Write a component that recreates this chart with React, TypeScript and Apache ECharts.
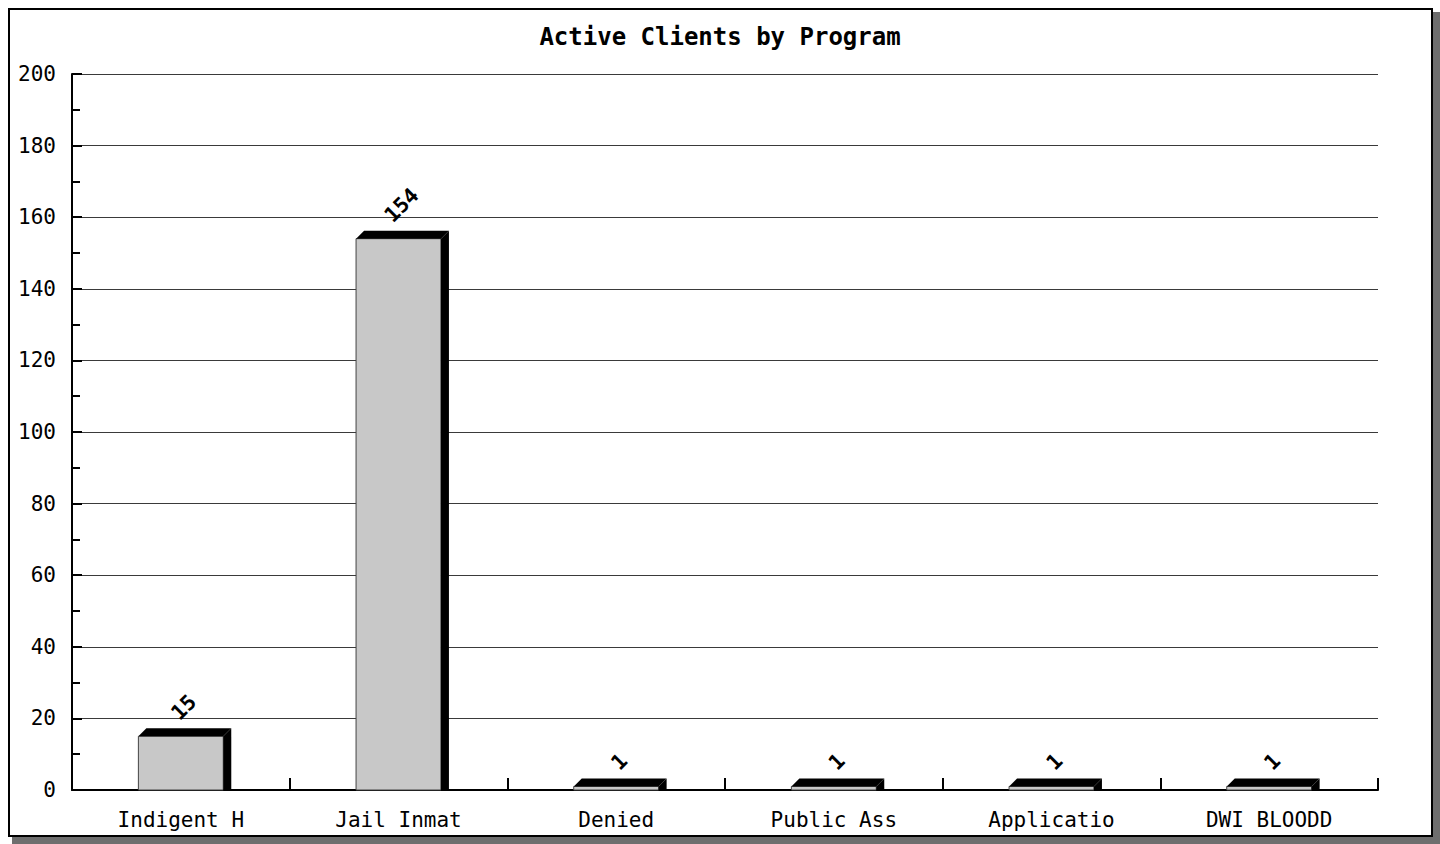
import React, { useEffect, useRef } from "react";
import * as echarts from "echarts";

const categories = ["Indigent H", "Jail Inmat", "Denied", "Public Ass", "Applicatio", "DWI BLOODD"];
const values = [15, 154, 1, 1, 1, 1];
const yTicks = { min: 0, max: 200, interval: 20 };
const titleText = "Active Clients by Program";

const FONT = "'DejaVu Sans Mono', 'Liberation Mono', monospace";

export default function App() {
  const ref = useRef<HTMLDivElement>(null);
  useEffect(() => {
    if (!ref.current) return;
    const chart = echarts.init(ref.current, null, { renderer: "svg" });
    const depth = 8;
    chart.setOption({
      animation: false,
      backgroundColor: "#ffffff",
      title: {
        text: titleText,
        left: "center",
        top: 20,
        textStyle: { fontFamily: FONT, fontWeight: "bold", fontSize: 24, color: "#000" },
      },
      grid: { left: 72, right: 62, top: 74, bottom: 54 },
      xAxis: {
        type: "category",
        data: categories,
        boundaryGap: true,
        axisLine: { lineStyle: { color: "#000", width: 2 } },
        axisTick: { show: true, inside: true, length: 12, lineStyle: { color: "#000", width: 2 } },
        axisLabel: { fontFamily: FONT, fontSize: 21, color: "#000", margin: 19 },
        splitLine: { show: false },
      },
      yAxis: {
        type: "value",
        min: yTicks.min,
        max: yTicks.max,
        interval: yTicks.interval,
        axisLine: { show: true, lineStyle: { color: "#000", width: 2 } },
        axisTick: { show: true, inside: true, length: 10, lineStyle: { color: "#000", width: 2 } },
        minorTick: { show: true, splitNumber: 2, length: 8, lineStyle: { color: "#000", width: 2 } },
        axisLabel: { fontFamily: FONT, fontSize: 21, color: "#000", margin: 16 },
        splitLine: { show: true, lineStyle: { color: "#3a3a3a", width: 1 } },
      },
      graphic: [
        { type: "rect", shape: { x: 1433, y: 12, width: 7, height: 832 }, style: { fill: "#6e6e6e" }, silent: true },
        { type: "rect", shape: { x: 12, y: 837, width: 1428, height: 7 }, style: { fill: "#6e6e6e" }, silent: true },
        { type: "rect", shape: { x: 9, y: 9, width: 1423, height: 827 }, style: { fill: "none", stroke: "#000", lineWidth: 2 }, silent: true },
      ],
      series: [
        {
          type: "custom",
          clip: false,
          data: values.map((v, i) => [i, v]),
          renderItem: (params: any, api: any) => {
            const i = api.value(0);
            const v = api.value(1);
            const top = api.coord([i, v]);
            const base = api.coord([i, 0]);
            const bw = api.size([1, 0])[0] * 0.39;
            const l = top[0] - bw / 2;
            const ty = top[1];
            const by = base[1];
            const r = l + bw;
            const label = String(v);
            return {
              type: "group",
              children: [
                {
                  type: "rect",
                  shape: { x: l, y: ty, width: bw, height: by - ty },
                  style: { fill: "#c8c8c8", stroke: "#444", lineWidth: 1 },
                },
                {
                  type: "polygon",
                  shape: { points: [[l, ty], [l + depth, ty - depth], [r + depth, ty - depth], [r, ty]] },
                  style: { fill: "#000" },
                },
                {
                  type: "polygon",
                  shape: { points: [[r, ty], [r + depth, ty - depth], [r + depth, by], [r, by]] },
                  style: { fill: "#000" },
                },
                {
                  type: "text",
                  x: top[0] + 3,
                  y: ty - depth - 12 - 4.5 * label.length,
                  rotation: Math.PI / 4,
                  style: {
                    text: label,
                    fill: "#000",
                    font: `bold 21px ${FONT}`,
                    align: "center",
                    verticalAlign: "middle",
                  },
                },
              ],
            };
          },
        },
      ],
    });
    return () => chart.dispose();
  }, []);
  return (
    <div
      ref={ref}
      style={{ position: "absolute", left: 0, top: 0, width: 1440, height: 844 }}
    />
  );
}
